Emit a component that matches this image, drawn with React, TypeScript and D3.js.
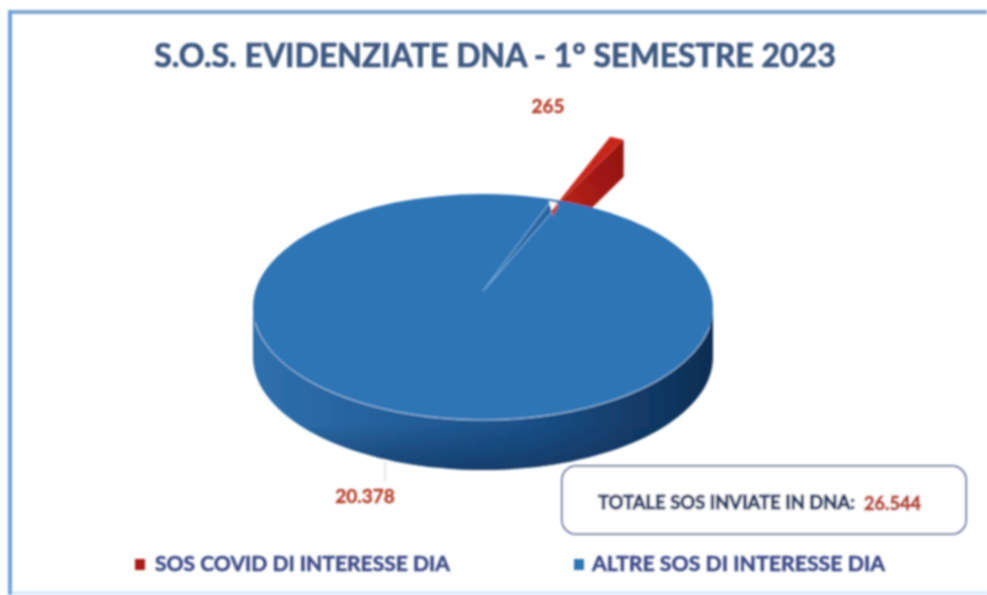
import React from "react";
import * as d3 from "d3";

const categories = ["SOS COVID DI INTERESSE DIA", "ALTRE SOS DI INTERESSE DIA"];
const values = [265, 20378];
const valueLabels = ["265", "20.378"];
const colors = ["#a81c17", "#2e75b6"];
const titleText = "S.O.S. EVIDENZIATE DNA - 1° SEMESTRE 2023";
const totalLabel = "TOTALE SOS INVIATE IN DNA:";
const totalValue = "26.544";

const W = 987, H = 595;
const cx = 483, cy = 307, rx = 230, ry = 113, depth = 50;
const deg = Math.PI / 180;
const mid = 24 * deg;

const arcs = d3.pie<number>().sort(null)
  .startAngle(mid - (values[0] / d3.sum(values)) * Math.PI)
  .endAngle(mid - (values[0] / d3.sum(values)) * Math.PI + 2 * Math.PI)(values);
const red = arcs[0];
const span = red.endAngle - red.startAngle;

const proj = (r: number, a: number, x0: number, y0: number): [number, number] => [
  x0 + r * rx * Math.sin(a),
  y0 - r * ry * Math.cos(a),
];
const line = d3.line<[number, number]>();
const steps = (a: number, b: number, n = 80) => d3.range(n + 1).map((i) => a + ((b - a) * i) / n);

// exploded red slice
const redApex: [number, number] = [552, 210];
const redR = 0.695, redDepth = 37, redWiden = 0.575;
const redRim = steps(mid - span * redWiden, mid + span * redWiden, 12).map((a) => proj(redR, a, redApex[0], redApex[1]));
const redTop = line([redApex, ...redRim])! + "Z";
const redRight = redRim[redRim.length - 1];
const redSide = line([
  redApex, redRight,
  [redRight[0], redRight[1] + redDepth],
  [redApex[0], redApex[1] + redDepth],
])! + "Z";

// blue body
const side = [
  ...steps(90 * deg, 270 * deg).map((a) => proj(1, a, cx, cy)),
  ...steps(270 * deg, 90 * deg).map((a) => proj(1, a, cx, cy + depth)),
];
const sidePath = line(side as [number, number][])! + "Z";
const rimLow = line(steps(100 * deg, 262 * deg).map((a) => proj(1, a, cx, cy)))!;

// gap left by the exploded slice
const gapApex: [number, number] = [483, 291];
const gapR = 0.82, gapMid = 21.8 * deg, gapHalf = span * 0.32;
const gapA = proj(gapR, gapMid - gapHalf, gapApex[0], gapApex[1]);
const gapB = proj(gapR, gapMid + gapHalf, gapApex[0], gapApex[1]);
const gapPath = line([gapApex, gapA, gapB])! + "Z";
const notch = line([
  [gapA[0] + 0.3, gapA[1] - 3],
  [gapB[0] + 0.5, gapB[1] - 3],
  [gapB[0], gapB[1] + 2],
  [553, 216],
])! + "Z";

const font = "Lato, 'Open Sans', sans-serif";

function RedSlice() {
  return (
    <g>
      <path d={redSide} fill="url(#redSide)" />
      <path d={redTop} fill="#c8281c" />
    </g>
  );
}

export default function App() {
  return (
    <svg width={W} height={H} style={{ position: "fixed", left: 0, top: 0, background: "#fff" }}>
      <defs>
        <linearGradient id="side" x1="0" x2="1" y1="0" y2="0">
          <stop offset="0" stopColor="#2f70ac" />
          <stop offset="0.3" stopColor="#245f9b" />
          <stop offset="0.6" stopColor="#1a5088" />
          <stop offset="0.85" stopColor="#123a66" />
          <stop offset="1" stopColor="#0f2d52" />
        </linearGradient>
        <linearGradient id="shade" x1="0" x2="0" y1="0" y2="1">
          <stop offset="0.72" stopColor="#0d2b50" stopOpacity="0" />
          <stop offset="1" stopColor="#0d2b50" stopOpacity="0.55" />
        </linearGradient>
        <linearGradient id="redSide" x1="0" x2="1" y1="1" y2="0">
          <stop offset="0" stopColor="#c9301f" />
          <stop offset="0.55" stopColor="#a51a14" />
          <stop offset="1" stopColor="#8f1410" />
        </linearGradient>
        <clipPath id="gapClip"><path d={notch} /></clipPath>
        <filter id="soft" x="-5%" y="-5%" width="110%" height="110%">
          <feGaussianBlur stdDeviation="0.9" />
        </filter>
      </defs>

      <g filter="url(#soft)">
        <rect x="8" y="10" width="979" height="4" fill="#80a6cf" />
        <rect x="8" y="10" width="4" height="585" fill="#6fa2db" />
        <rect x="12" y="591" width="975" height="4" fill="#dcebfa" />

        <text x={495} y={67} textAnchor="middle" fontFamily={font} fontWeight={700} fontSize={32} fill="#3d5880" stroke="#3d5880" strokeWidth={0.7}>
          {titleText}
        </text>

        <RedSlice />

        <path d={sidePath} fill="url(#side)" />
        <path d={sidePath} fill="url(#shade)" />
        <ellipse cx={cx} cy={cy} rx={rx} ry={ry} fill={colors[1]} />
        <path d={rimLow} fill="none" stroke="#a9c8e6" strokeWidth={1} />

        <path d={gapPath} fill="#2a63a0" stroke="#6fa8dc" strokeWidth={1.2} strokeLinejoin="round" />
        <path d={notch} fill="#ffffff" />
        <g clipPath="url(#gapClip)"><RedSlice /></g>

        <line x1={385} x2={385} y1={461} y2={482} stroke="#c4c9cf" strokeWidth={1} />

        <text x={548} y={113} textAnchor="middle" fontFamily={font} fontWeight={700} fontSize={19} fill="#b5402d" stroke="#b5402d" strokeWidth={0.4}>
          {valueLabels[0]}
        </text>
        <text x={365} y={503} textAnchor="middle" fontFamily={font} fontWeight={700} fontSize={19} fill="#b5402d" stroke="#b5402d" strokeWidth={0.4}>
          {valueLabels[1]}
        </text>

        <rect x={562} y={466} width={404} height={68} rx={14} fill="#fff" stroke="#44528a" strokeWidth={1.6} />
        <text x={598} y={509} fontFamily={font} fontWeight={700} fontSize={18} fill="#2d3d66" stroke="#2d3d66" strokeWidth={0.9} textLength={257} lengthAdjust="spacingAndGlyphs" style={{ fontWeight: "bold" }}>
          {totalLabel}
        </text>
        <text x={864} y={510} fontFamily={font} fontWeight={700} fontSize={18} fill="#b5402d" stroke="#b5402d" strokeWidth={0.9} textLength={57} lengthAdjust="spacingAndGlyphs" style={{ fontWeight: "bold" }}>
          {totalValue}
        </text>

        <rect x={135} y={559} width={10} height={11} fill={colors[0]} />
        <text x={155} y={571} fontFamily={font} fontWeight={700} fontSize={20} fill="#3c4a86" stroke="#3c4a86" strokeWidth={0.5} textLength={295} lengthAdjust="spacingAndGlyphs">
          {categories[0]}
        </text>
        <rect x={574} y={559} width={10} height={11} fill={colors[1]} />
        <text x={592} y={571} fontFamily={font} fontWeight={700} fontSize={20} fill="#3c4a86" stroke="#3c4a86" strokeWidth={0.5} textLength={293} lengthAdjust="spacingAndGlyphs">
          {categories[1]}
        </text>
      </g>
    </svg>
  );
}
